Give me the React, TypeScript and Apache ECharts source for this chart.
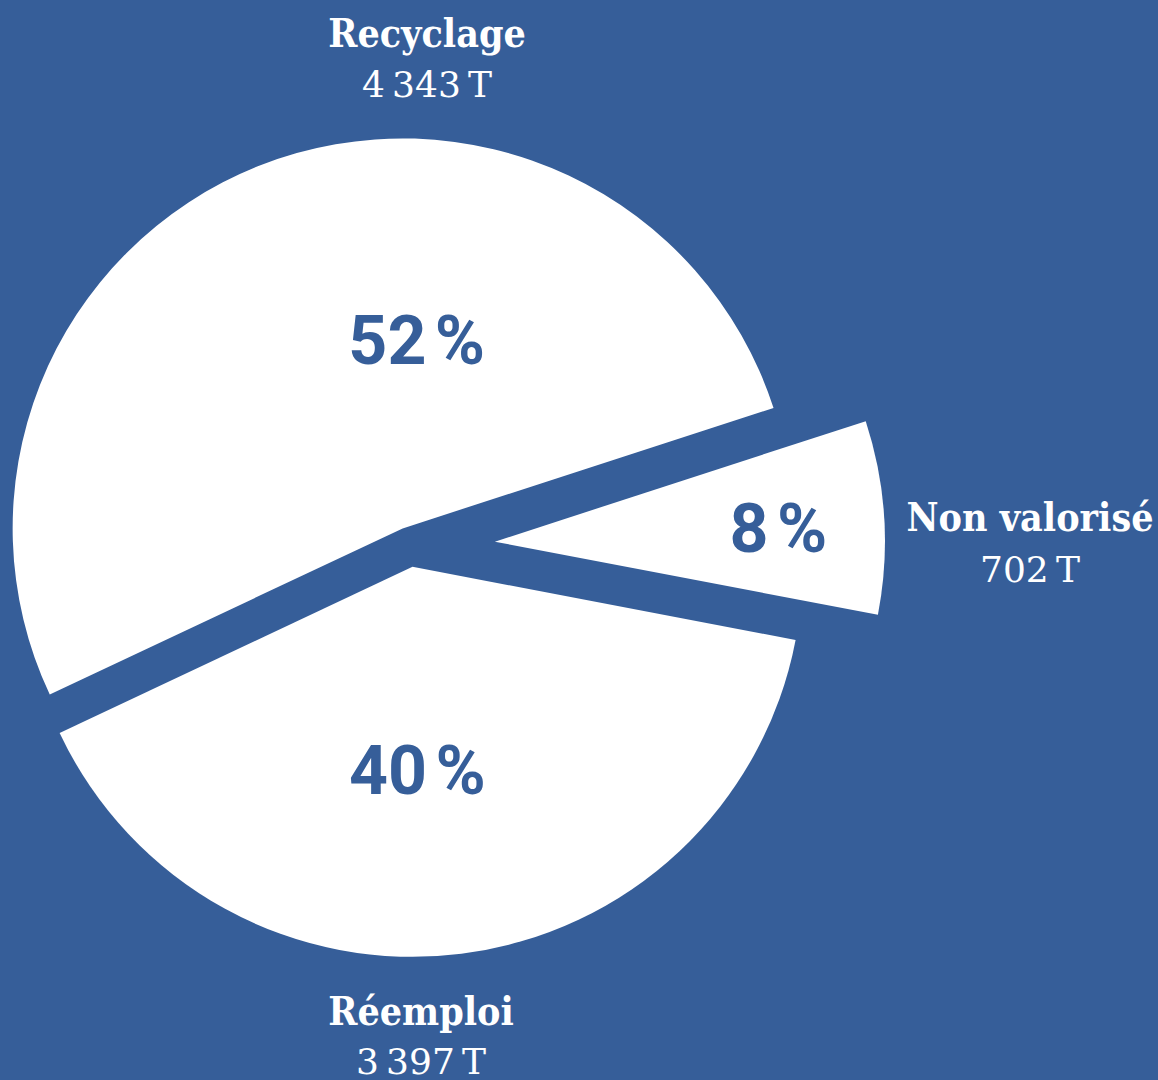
import React, { useEffect, useRef } from "react";
import * as echarts from "echarts";

// ---- data ----
const categories = ["Recyclage", "Réemploi", "Non valorisé"];
const percentages = [52, 40, 8];
const tonnages = [4343, 3397, 702];
const unit = "T";

// ---- style ----
const BG = "#365e99";
const WHITE = "#ffffff";
const NAME_FONT = '"DejaVu Serif Condensed", "DejaVu Serif", serif';
const VALUE_FONT = '"DejaVu Serif", serif';
const PCT_FONT = "Roboto, sans-serif";

const fmt = (n: number) => String(n).replace(/\B(?=(\d{3})+(?!\d))/g, "\u202F");

export default function App() {
  const ref = useRef<HTMLDivElement>(null);

  useEffect(() => {
    const chart = echarts.init(ref.current!, null, { renderer: "svg" });
    const center = [410, 547];
    const radius = 390;
    const startAngle = 18;
    const explode = [20, 20, 85];
    const labelShift = [
      [87, -3],
      [-20, 8],
      [86, 0],
    ];
    const outer = [
      { x: 427, nameY: 33, valueY: 84 },
      { x: 421, nameY: 1011, valueY: 1061 },
      { x: 1030, nameY: 517, valueY: 569 },
    ];
    const total = percentages.reduce((a, b) => a + b, 0);
    let cum = 0;
    const series = categories.map((_, i) => {
      const mid = startAngle + ((cum + percentages[i] / 2) / total) * 360;
      cum += percentages[i];
      const rad = (mid * Math.PI) / 180;
      const c = [
        center[0] + explode[i] * Math.cos(rad),
        center[1] - explode[i] * Math.sin(rad),
      ];
      return {
        type: "pie",
        center: c,
        radius: [0, radius],
        startAngle,
        clockwise: false,
        silent: true,
        emphasis: { disabled: true },
        avoidLabelOverlap: false,
        labelLine: { show: false },
        labelLayout: { dx: labelShift[i][0], dy: labelShift[i][1] },
        data: categories.map((n, j) => ({
          name: n,
          value: percentages[j],
          itemStyle: { color: j === i ? WHITE : "rgba(0,0,0,0)" },
          label:
            j === i
              ? {
                  show: true,
                  position: "inside",
                  formatter: `${percentages[j]}\u202F%`,
                  color: BG,
                  fontFamily: PCT_FONT,
                  fontWeight: 700,
                  fontSize: 68,
                }
              : { show: false },
        })),
      };
    });

    const graphic = categories.flatMap((name, i) => [
      {
        type: "text",
        x: outer[i].x,
        y: outer[i].nameY,
        silent: true,
        style: {
          text: name,
          fill: WHITE,
          fontFamily: NAME_FONT,
          fontWeight: "bold",
          fontSize: 39,
          align: "center",
          verticalAlign: "middle",
        },
      },
      {
        type: "text",
        x: outer[i].x,
        y: outer[i].valueY,
        silent: true,
        style: {
          text: `${fmt(tonnages[i])}\u202F${unit}`,
          fill: WHITE,
          fontFamily: VALUE_FONT,
          fontWeight: "normal",
          fontSize: 36,
          align: "center",
          verticalAlign: "middle",
        },
      },
    ]);

    chart.setOption({
      animation: false,
      backgroundColor: BG,
      series,
      graphic,
    });
    return () => chart.dispose();
  }, []);

  return (
    <div
      ref={ref}
      style={{ position: "fixed", left: 0, top: 0, width: 1158, height: 1080 }}
    />
  );
}
